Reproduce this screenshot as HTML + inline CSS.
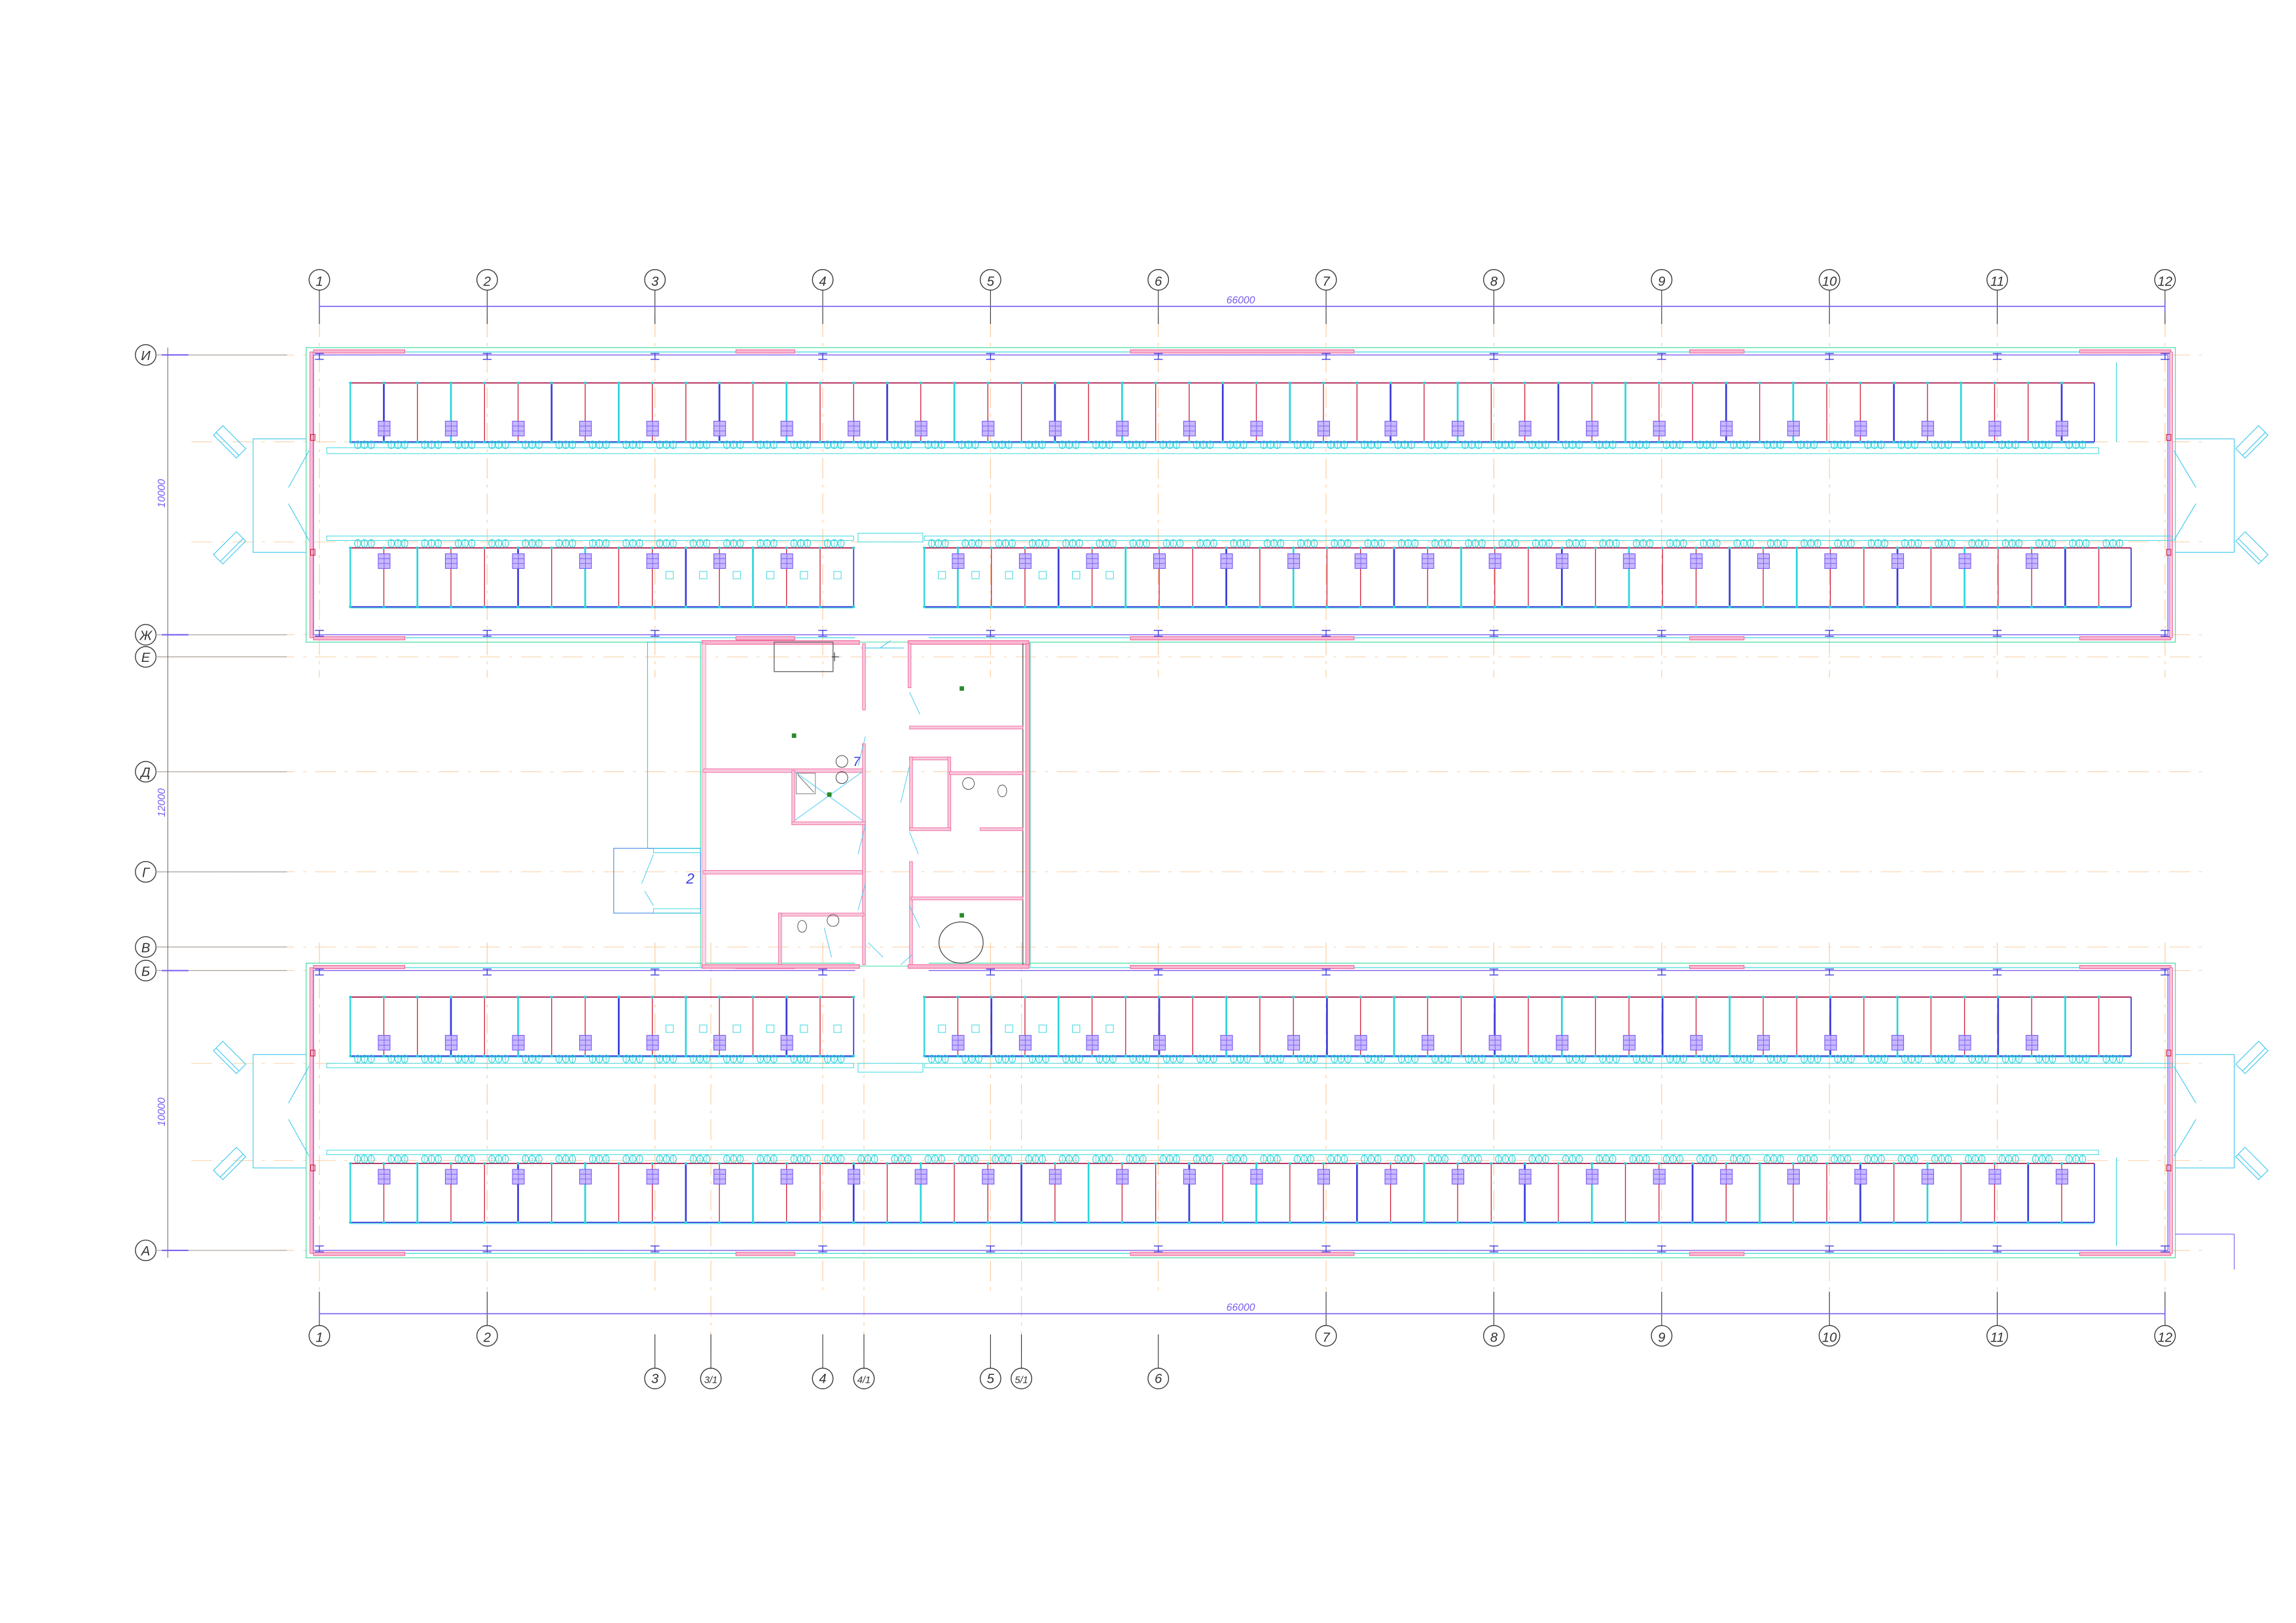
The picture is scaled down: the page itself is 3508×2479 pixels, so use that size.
<!DOCTYPE html>
<html><head><meta charset="utf-8">
<style>html,body{margin:0;padding:0;background:#fff}svg{display:block}</style>
</head><body>
<svg id="s" xmlns="http://www.w3.org/2000/svg" width="3508" height="2479" viewBox="0 0 1560 1102" preserveAspectRatio="none" font-family="Liberation Sans, DejaVu Sans, sans-serif">
<rect width="1560" height="1102" fill="#fff"/>
<g id="g"></g>
</svg>
<script>
const g=document.getElementById('g');let out='';
function L(x1,y1,x2,y2,c,w,d){out+=`<line x1="${x1}" y1="${y1}" x2="${x2}" y2="${y2}" stroke="${c}" stroke-width="${w||0.5}"${d?` stroke-dasharray="${d}"`:''}/>`;}
function R(x,y,w,h,c,sw,f){out+=`<rect x="${x}" y="${y}" width="${w}" height="${h}" fill="${f||'none'}" stroke="${c}" stroke-width="${sw||0.5}"/>`;}
function C(x,y,r,c,sw){out+=`<circle cx="${x}" cy="${y}" r="${r}" fill="none" stroke="${c}" stroke-width="${sw||0.5}"/>`;}
function E(x,y,rx,ry,c,sw){out+=`<ellipse cx="${x}" cy="${y}" rx="${rx}" ry="${ry}" fill="none" stroke="${c}" stroke-width="${sw||0.45}"/>`;}
function T(x,y,t,s,c,extra){out+=`<text x="${x}" y="${y}" font-size="${s}" fill="${c}" font-style="italic" text-anchor="middle" ${extra||''}>${t}</text>`;}
const OR='#f8c99a',CY='#2ad4dc',BL='#3b3bdc',RD='#d0203a',PK='#f06aa0',GR='#55e0a8',PU='#7a5cf0',SKY='#3cc8f0';
const ax=[217,331,445,559,673,787,901,1015,1129,1243,1357,1471];
// axis dashed lines
ax.forEach(x=>{L(x,215,x,460,OR,0.5,'14 4 2 4');L(x,640,x,880,OR,0.5,'14 4 2 4');});
[483,587,694].forEach(x=>L(x,640,x,930,OR,0.5,'14 4 2 4'));
[241,300,368,431,446,524,592,643,659,722,788,849].forEach(y=>L(130,y,1500,y,OR,0.4,'14 6 2 6'));
// top axes circles
ax.forEach((x,i)=>{C(x,190,7,'#333',0.6);T(x,194,i+1,9,'#333');L(x,197,x,220,'#333',0.5);});
L(217,208,1471,208,PU,0.7);T(843,206,'66000',7,PU);
L(217,204,217,212,PU,0.7);L(1471,204,1471,212,PU,0.7);
// bottom axes
[0,1,6,7,8,9,10,11].forEach(i=>{const x=ax[i];C(x,907,7,'#333',0.6);T(x,911,i+1,9,'#333');L(x,877,x,900,'#333',0.5);});
L(217,892,1471,892,PU,0.7);T(843,890,'66000',7,PU);
L(217,888,217,896,PU,0.7);L(1471,888,1471,896,PU,0.7);
[[445,'3'],[483,'3/1'],[559,'4'],[587,'4/1'],[673,'5'],[694,'5/1'],[787,'6']].forEach(([x,t])=>{C(x,936,7,'#333',0.6);T(x,939,t,t.length>1?6.5:9,'#333');L(x,906,x,929,'#333',0.5);});
// row axes
[[241,'И'],[431,'Ж'],[446,'Е'],[524,'Д'],[592,'Г'],[643,'В'],[659,'Б'],[849,'А']].forEach(([y,t])=>{C(99,y,7,'#333',0.6);T(99,y+3.5,t,9,'#333');L(106,y,195,y,'#b0a8a0',0.6);});
L(114,236,114,854,'#555',0.4);
[241,431,659,849].forEach(y=>L(110,y,128,y,PU,0.9));
T(112,335,'10000',7,PU,'transform="rotate(-90 112 335)"');
T(112,545,'12000',7,PU,'transform="rotate(-90 112 545)"');
T(112,755,'10000',7,PU,'transform="rotate(-90 112 755)"');
// block function
function block(y0,flip){
 const y1=y0+200;
 R(208,y0,1270,200,GR,0.6);
 R(211,y0+3,1264,194,CY,0.5);
 R(213,y0+5,1260,190,PU,0.6);
 // pink segments
 [[213,275],[500,540],[768,920],[1148,1185],[1413,1475]].forEach(([a,b])=>{R(a,y0+1.5,b-a,2.2,PK,0.5,'#f8b8d0');R(a,y1-3.7,b-a,2.2,PK,0.5,'#f8b8d0');});
 R(210.5,y0+3,2.2,194,PK,0.4,'#f8c0d8');R(1474,y0+3,2.2,194,PK,0.4,'#f8c0d8');
 ax.forEach(x=>{L(x-3,y0+4,x+3,y0+4,BL,0.6);L(x-3,y0+8,x+3,y0+8,BL,0.6);L(x,y0+4,x,y0+8,BL,0.6);L(x-3,y1-4,x+3,y1-4,BL,0.6);L(x-3,y1-8,x+3,y1-8,BL,0.6);L(x,y1-8,x,y1-4,BL,0.6);});
 // side doors
 [[0],[1]].forEach(([s])=>{
  const xa=s?1478:172, xb=s?1518:208;
  const ya=y0+62, yb=y0+139;
  out+=`<polyline points="${s?1478:208},${ya} ${s?1518:172},${ya} ${s?1518:172},${yb} ${s?1478:208},${yb}" fill="none" stroke="${SKY}" stroke-width="0.5"/>`;
  const dx=s?1492:196;
  L(s?1477:210,ya+8,dx,y0+95,SKY,0.5);L(s?1477:210,yb-8,dx,y0+106,SKY,0.5);
  const cx=s?1530:156;
  [[y0+64,s?-45:45],[y0+136,s?45:-45]].forEach(([cy,a])=>{out+=`<g transform="translate(${cx} ${cy}) rotate(${a})"><rect x="-11" y="-4.5" width="22" height="9" fill="none" stroke="${SKY}" stroke-width="0.5"/><line x1="-11" y1="2" x2="11" y2="2" stroke="${SKY}" stroke-width="0.5"/></g>`;});
  R(s?1472:211,ya-3,3,4,RD,0.5);R(s?1472:211,yb-2,3,4,RD,0.5);
 });
}
block(236,false);block(654,true);
// stall rows
const cols=[RD,BL,RD,CY,RD];
function stalls(xa,xb,ya,yb,circY,gridY,start){
 L(xa,ya,xb,ya,'#b02050',0.8);L(xa,yb,xb,yb,BL,0.8);L(xa,yb+0.8,xb,yb+0.8,CY,0.5);
 L(xa,ya,xa,yb,CY,1);L(xb,ya,xb,yb,BL,0.8);
 let k=0;
 for(let x=xa;x<=xb+0.1;x+=22.8,k++){
  const c=k==0?CY:cols[(k+start)%5];const w=(c==CY||c==BL)?1.2:0.6;
  if(k>0&&x<xb-1)L(x,ya,x,yb,c,w);
  out+=`<circle cx="${x}" cy="${ya}" r="0.9" fill="${CY}"/><circle cx="${x}" cy="${yb}" r="0.9" fill="${CY}"/>`;
  if(x<xb-5){for(let j=0;j<3;j++){E(x+5+j*4.6,circY,2.1,2.6,CY,0.5);L(x+5+j*4.6,circY-2.6,x+5+j*4.6,circY+2.6,CY,0.35);}}
 }
}
function grids(xa,xb,gy){
 for(let x=xa;x<=xb;x+=45.6){R(x-4,gy,8,10,PU,0.5,'#c8b8ff');L(x-4,gy+3.3,x+4,gy+3.3,PU,0.4);L(x-4,gy+6.6,x+4,gy+6.6,PU,0.4);L(x,gy,x,gy+10,PU,0.4);}
}
// top block
stalls(238,1423,260,300,302,286,0);grids(261,1401,286);
R(222,304,1204,4,CY,0.4);
stalls(238,580,372,412,369,376,1);grids(261,535,376);
stalls(628,1448,372,412,369,376,2);grids(651,1426,376);
R(222,364,358,3,CY,0.4);R(628,364,848,3,CY,0.4);
for(let x=455;x<575;x+=22.8)R(x-2.5,388,5,5,CY,0.4);for(let x=640;x<760;x+=22.8)R(x-2.5,388,5,5,CY,0.4);
L(1438,246,1438,300,CY,0.5);
// bottom block
stalls(238,580,677,717,719,703,3);grids(261,535,703);
stalls(628,1448,677,717,719,703,4);grids(651,1426,703);
for(let x=455;x<575;x+=22.8)R(x-2.5,696,5,5,CY,0.4);for(let x=640;x<760;x+=22.8)R(x-2.5,696,5,5,CY,0.4);
R(222,722,358,3,CY,0.4);R(628,722,848,3,CY,0.4);
stalls(238,1423,790,830,787,794,1);grids(261,1401,794);
R(222,781,1204,3,CY,0.4);
L(1438,786,1438,846,CY,0.5);L(1478,838,1518,838,PU,0.5);L(1518,838,1518,862,PU,0.5);
// central passages
R(583,362,44,6,CY,0.4);R(583,722,44,6,CY,0.4);
// middle section
out+=`<rect x="581" y="432" width="50" height="8" fill="#fff"/><rect x="581" y="652" width="50" height="8" fill="#fff"/>`;
R(440,436,36,140,CY,0.5);
R(476,436,224,220,GR,0.5);
R(477,435,107,2.5,PK,0.5,'#f8b8d0');R(617,435,82,2.5,PK,0.5,'#f8b8d0');
R(477,655,107,2.5,PK,0.5,'#f8b8d0');R(617,655,82,2.5,PK,0.5,'#f8b8d0');
R(477,437,2.5,218,PK,0.3,'#fcd8e8');R(697,437,2.5,218,PK,0.5,'#f8b8d0');L(695,437,695,655,'#333',0.5);
L(585,440,614,440,SKY,0.5);L(598,440,605,435,SKY,0.5);
// left rooms
R(478,522,108,2.5,PK,0.4,'#f8c8dc');R(478,591,108,2.5,PK,0.4,'#f8c8dc');
R(586,437,2,45,PK,0.4,'#f8c8dc');R(586,505,2,150,PK,0.4,'#f8c8dc');
R(526,436,40,20,'#666',0.6);L(565,446,570,446,'#333',0.5);L(567,443,567,449,'#333',0.5);
R(538,523,2,37,PK,0.4,'#f8c8dc');R(538,558,50,2,PK,0.4,'#f8c8dc');
R(541,525,13,14,'#777',0.4);L(542,526,553,538,'#555',0.4);
L(540,557,586,524,SKY,0.4);L(540,524,586,557,SKY,0.4);out+=`<rect x="562" y="538" width="3" height="3" fill="#2a8a2a"/>`;
E(572,517,4,4,'#333',0.4);E(572,528,4,4,'#333',0.4);T(582,520,'7',9,BL);
out+=`<rect x="538" y="498" width="3" height="3" fill="#2a8a2a"/><rect x="652" y="466" width="3" height="3" fill="#2a8a2a"/><rect x="652" y="620" width="3" height="3" fill="#2a8a2a"/>`;
R(529,620,58,2,PK,0.4,'#f8c8dc');R(529,620,2,35,PK,0.4,'#f8c8dc');
E(545,629,3,4,'#444',0.4);E(566,625,4,4,'#444',0.4);
// right rooms
R(617,437,2,30,PK,0.4,'#f8c8dc');R(618,493,77,2,PK,0.4,'#f8c8dc');
R(618,514,27,2,PK,0.4,'#f8c8dc');R(644,514,2,50,PK,0.4,'#f8c8dc');R(618,514,2,50,PK,0.4,'#f8c8dc');
R(645,524,50,2,PK,0.4,'#f8c8dc');R(618,562,28,2,PK,0.4,'#f8c8dc');R(666,562,29,2,PK,0.4,'#f8c8dc');
E(658,532,4,4,'#444',0.4);E(681,537,3,4,'#444',0.4);
R(618,585,2,70,PK,0.4,'#f8c8dc');R(619,609,76,2,PK,0.4,'#f8c8dc');
E(653,640,15,14,'#333',0.5);
[[588,500,583,520],[588,560,583,580],[588,600,583,618],[618,470,625,485],[618,520,612,545],[618,565,624,580],[618,615,625,630],[560,630,565,650],[590,640,600,650],[620,648,612,655]].forEach(a=>L(a[0],a[1],a[2],a[3],SKY,0.4));
// vestibule
R(417,576,59,44,'#4a8ae8',0.5);R(444,576,32,3,CY,0.4);R(444,617,32,3,CY,0.4);
L(444,580,436,600,SKY,0.4);L(444,615,438,605,SKY,0.4);T(469,600,'2',10,BL);
g.innerHTML=out;
</script>
</body></html>
